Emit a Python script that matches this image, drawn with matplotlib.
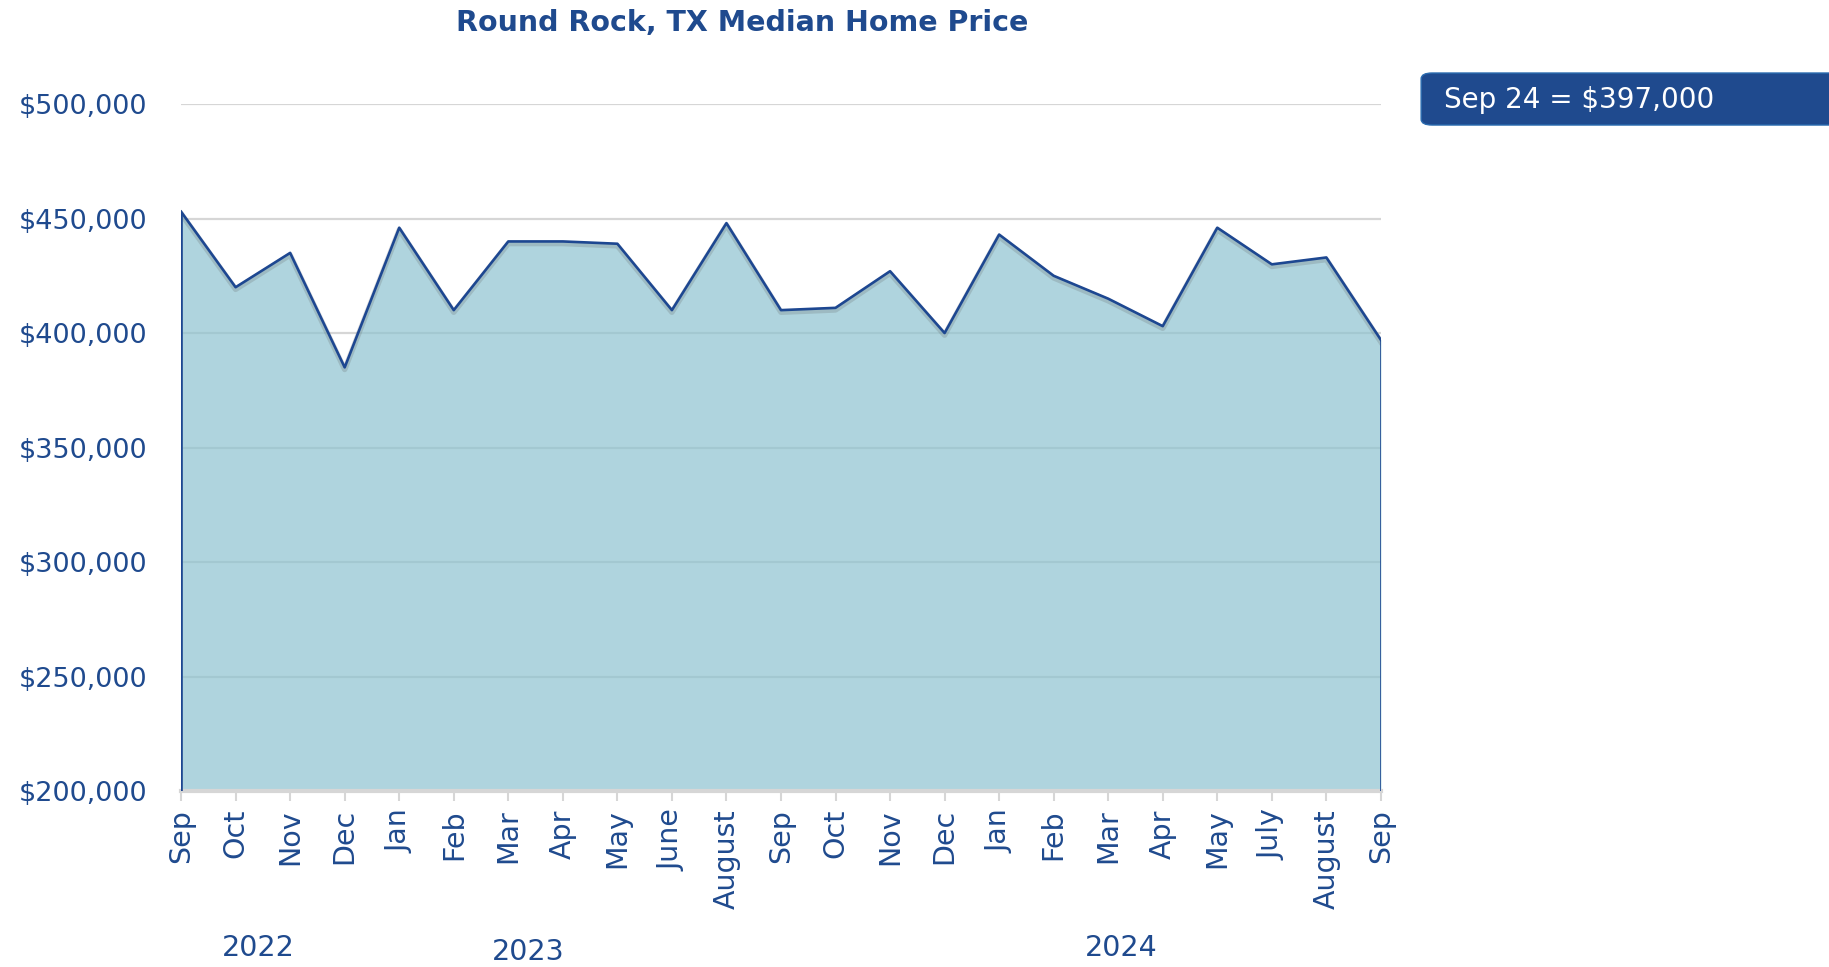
import matplotlib
matplotlib.use("Agg")
import matplotlib.pyplot as plt
import matplotlib.patheffects as pe
from matplotlib.patches import FancyBboxPatch
from matplotlib.ticker import FuncFormatter, FixedLocator
import matplotlib.transforms as mtransforms

months = ["Sep", "Oct", "Nov", "Dec", "Jan", "Feb", "Mar", "Apr", "May", "June",
          "August", "Sep", "Oct", "Nov", "Dec", "Jan", "Feb", "Mar", "Apr", "May",
          "July", "August", "Sep"]
prices = [453000, 420000, 435000, 385000, 446000, 410000, 440000, 440000, 439000,
          410000, 448000, 410000, 411000, 427000, 400000, 443000, 425000, 415000,
          403000, 446000, 430000, 433000, 397000]
years = ["2022", "2023", "2024"]
year_pos = [1.41, 6.36, 17.23]
y_ticks = [200000, 250000, 300000, 350000, 400000, 450000, 500000]
callout = "Sep 24 = $397,000"

BLUE = "#1f4a8e"
LINE = "#1d4791"
FILL = "#8ec3d0"
GRID = "#d6d6d6"

plt.rcParams["font.family"] = ["DejaVu Sans"]

fig = plt.figure(figsize=(18.29, 9.67), dpi=100)
ax = fig.add_axes([0.099, 0.182, 0.656, 0.7104])

x = list(range(len(prices)))
ymin, ymax = y_ticks[0], y_ticks[-1]

ax.fill_between(x, prices, ymin, color=FILL, alpha=0.7, linewidth=0, zorder=2)
ax.plot(x, prices, color=LINE, lw=1.9, zorder=3,
        path_effects=[pe.SimpleLineShadow(offset=(0, -1.5), shadow_color="#555555", alpha=0.2, linewidth=4),
                      pe.Normal()])
ax.vlines([x[0], x[-1]], ymin, [prices[0], prices[-1]], color=LINE, lw=1.9, zorder=3)

ax.set_xlim(0, len(prices) - 1)
ax.set_ylim(ymin, ymax)

ax.yaxis.set_major_locator(FixedLocator(y_ticks))
ax.yaxis.set_major_formatter(FuncFormatter(lambda v, p: f"${v:,.0f}"))
ax.grid(axis="y", color=GRID, lw=1.6, zorder=1)
ax.set_axisbelow(True)

ax.set_xticks(x)
ax.set_xticklabels(months, rotation=90, va="top", ha="center")

for s in ["top", "right", "left"]:
    ax.spines[s].set_visible(False)
ax.spines["bottom"].set_color(GRID)
ax.spines["bottom"].set_linewidth(3)

ax.tick_params(axis="y", length=0, pad=24, labelsize=19.5, labelcolor=BLUE)
ax.tick_params(axis="x", length=7, width=1.5, color=GRID, pad=6, labelsize=20.5, labelcolor=BLUE)

# year labels under the month labels
trans = mtransforms.blended_transform_factory(ax.transData, fig.transFigure)
for yr, xp, yy in zip(years, year_pos, [0.0196, 0.0155, 0.0196]):
    ax.text(xp, yy, yr, transform=trans, ha="center", va="center", fontsize=20.5, color=BLUE)

fig.text(0.406, 0.976, "Round Rock, TX Median Home Price", ha="center", va="center",
         fontsize=20.5, fontweight="bold", color=BLUE)

# callout box top right
box = FancyBboxPatch((0.777, 0.8707), 0.25, 0.0538, boxstyle="round,pad=0,rounding_size=0.006",
                     transform=fig.transFigure, facecolor=BLUE, edgecolor="#2b6cb0", lw=1)
fig.patches.append(box)
fig.text(0.7895, 0.897, callout, ha="left", va="center", fontsize=20, color="white")

fig.savefig("out.png", dpi=100)
